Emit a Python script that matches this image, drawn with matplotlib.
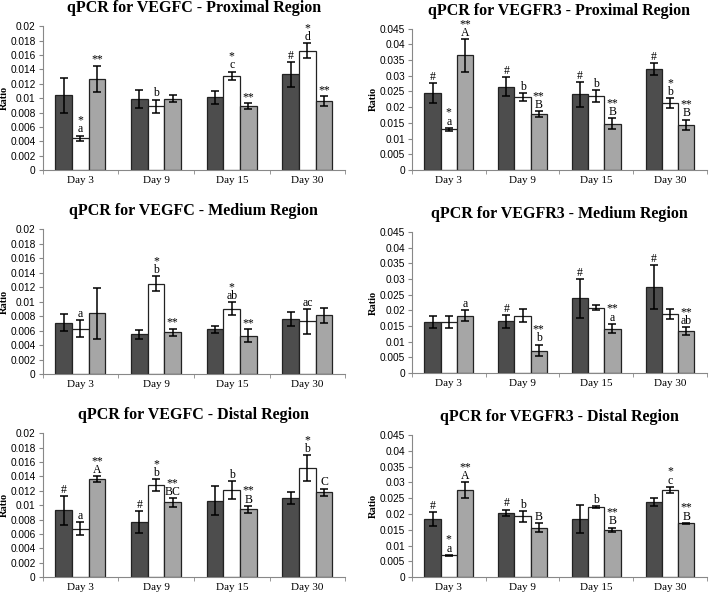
import numpy as np
import matplotlib.pyplot as plt
from matplotlib.ticker import FixedLocator

days = ["Day 3", "Day 9", "Day 15", "Day 30"]

# VEGFC proximal
vc_prox = [[0.0104, 0.0099, 0.0101, 0.0133],
           [0.0044, 0.0089, 0.0131, 0.0166],
           [0.0127, 0.0099, 0.0089, 0.0096]]
vc_prox_err = [[0.0024, 0.0012, 0.0009, 0.0017],
               [0.0004, 0.0009, 0.0006, 0.0010],
               [0.0018, 0.0005, 0.0004, 0.0007]]
vc_prox_lab = [["", "", "", "#"],
               ["*\na", "b", "*\nc", "*\nd"],
               ["**", "", "**", "**"]]

# VEGFR3 proximal
vr_prox = [[0.0245, 0.0265, 0.0241, 0.0321],
           [0.0130, 0.0232, 0.0236, 0.0214],
           [0.0365, 0.0178, 0.0148, 0.0145]]
vr_prox_err = [[0.0033, 0.0030, 0.0040, 0.0020],
               [0.0005, 0.0013, 0.0018, 0.0015],
               [0.0052, 0.0010, 0.0017, 0.0016]]
vr_prox_lab = [["#", "#", "#", "#"],
               ["*\na", "b", "b", "*\nb"],
               ["**\nA", "**\nB", "**\nB", "**\nB"]]

# VEGFC medium
vc_med = [[0.0071, 0.0055, 0.0062, 0.0076],
          [0.0063, 0.0125, 0.0090, 0.0073],
          [0.0084, 0.0058, 0.0053, 0.0081]]
vc_med_err = [[0.0012, 0.0006, 0.0005, 0.0010],
              [0.0012, 0.0010, 0.0009, 0.0017],
              [0.0035, 0.0005, 0.0009, 0.0010]]
vc_med_lab = [["", "", "", ""],
              ["a", "*\nb", "*\nab", "ac"],
              ["", "**", "**", ""]]

# VEGFR3 medium
vr_med = [[0.0163, 0.0165, 0.0238, 0.0274],
          [0.0163, 0.0183, 0.0209, 0.0189],
          [0.0183, 0.0072, 0.0142, 0.0133]]
vr_med_err = [[0.0020, 0.0020, 0.0062, 0.0070],
              [0.0020, 0.0020, 0.0008, 0.0015],
              [0.0018, 0.0019, 0.0015, 0.0013]]
vr_med_lab = [["", "#", "#", "#"],
              ["", "", "", ""],
              ["a", "**\nb", "**\na", "**\nab"]]

# VEGFC distal
vc_dist = [[0.0093, 0.0077, 0.0106, 0.0110],
           [0.0067, 0.0128, 0.0121, 0.0151],
           [0.0136, 0.0104, 0.0094, 0.0118]]
vc_dist_err = [[0.0020, 0.0015, 0.0020, 0.0008],
               [0.0009, 0.0008, 0.0012, 0.0018],
               [0.0004, 0.0006, 0.0005, 0.0005]]
vc_dist_lab = [["#", "#", "", ""],
               ["a", "*\nb", "b", "*\nb"],
               ["**\nA", "**\nBC", "**\nB", "C"]]

# VEGFR3 distal
vr_dist = [[0.0185, 0.0204, 0.0183, 0.0239],
           [0.0069, 0.0192, 0.0222, 0.0276],
           [0.0275, 0.0157, 0.0150, 0.0170]]
vr_dist_err = [[0.0022, 0.0010, 0.0044, 0.0013],
               [0.0002, 0.0017, 0.0002, 0.0010],
               [0.0025, 0.0015, 0.0007, 0.0002]]
vr_dist_lab = [["#", "#", "", ""],
               ["*\na", "b", "b", "*\nc"],
               ["**\nA", "B", "**\nB", "**\nB"]]

colors = ["#4d4d4d", "#ffffff", "#a6a6a6"]
serif = "Liberation Serif"
sans = "Liberation Sans"

fig = plt.figure(figsize=(7.09, 5.95), dpi=100)

panels = [
    ("qPCR for VEGFC - Proximal Region", vc_prox, vc_prox_err, vc_prox_lab, 0.02, 0.002, [0.060, 0.714, 0.427, 0.242]),
    ("qPCR for VEGFR3 - Proximal Region", vr_prox, vr_prox_err, vr_prox_lab, 0.045, 0.005, [0.581, 0.714, 0.416, 0.238]),
    ("qPCR for VEGFC - Medium Region", vc_med, vc_med_err, vc_med_lab, 0.02, 0.002, [0.060, 0.371, 0.427, 0.244]),
    ("qPCR for VEGFR3 - Medium Region", vr_med, vr_med_err, vr_med_lab, 0.045, 0.005, [0.581, 0.373, 0.416, 0.237]),
    ("qPCR for VEGFC - Distal Region", vc_dist, vc_dist_err, vc_dist_lab, 0.02, 0.002, [0.060, 0.030, 0.427, 0.242]),
    ("qPCR for VEGFR3 - Distal Region", vr_dist, vr_dist_err, vr_dist_lab, 0.045, 0.005, [0.581, 0.030, 0.416, 0.239]),
]

x = np.arange(len(days))
w = 0.22
for title, vals, errs, labs, ymax, step, rect in panels:
    ax = fig.add_axes(rect)
    for i in range(3):
        pos = x + (i - 1) * w
        ax.bar(pos, vals[i], w, color=colors[i], edgecolor="#222222", linewidth=0.9,
               yerr=errs[i], capsize=3, error_kw=dict(elinewidth=1.1, capthick=1.1, ecolor="black"))
        for j in range(len(days)):
            if labs[i][j]:
                ax.text(pos[j], vals[i][j] + errs[i][j] + ymax * 0.001, labs[i][j],
                        ha="center", va="bottom", fontsize=8.5, family=serif, linespacing=0.66)
    ax.set_xlim(-0.5, 3.5)
    ax.set_ylim(0, ymax)
    ticks = np.arange(0, ymax + step / 2, step)
    ax.set_yticks(ticks)
    ax.set_yticklabels([f"{t:g}" for t in np.round(ticks, 4)], family=sans, fontsize=7.3)
    ax.set_xticks(x)
    ax.set_xticklabels(days, family=serif, fontsize=8)
    ax.xaxis.set_minor_locator(FixedLocator(np.arange(-0.5, 4, 1)))
    ax.tick_params(axis="x", which="major", length=0, pad=4)
    ax.tick_params(axis="x", which="minor", length=3, color="#888888")
    ax.tick_params(axis="y", length=3, pad=2, color="#888888")
    for s in ["top", "right"]:
        ax.spines[s].set_visible(False)
    for s in ["left", "bottom"]:
        ax.spines[s].set_color("#888888")
    # "Ratio" sits about 34 px left of the y axis
    ax.set_ylabel("Ratio", family=serif, fontweight="bold", fontsize=7.5)
    ax.yaxis.set_label_coords(-34 / (rect[2] * 709), 0.5)
    ax.set_title(title, family=serif, fontweight="bold", fontsize=11.5, pad=10)

fig.savefig("out.png", dpi=100)
